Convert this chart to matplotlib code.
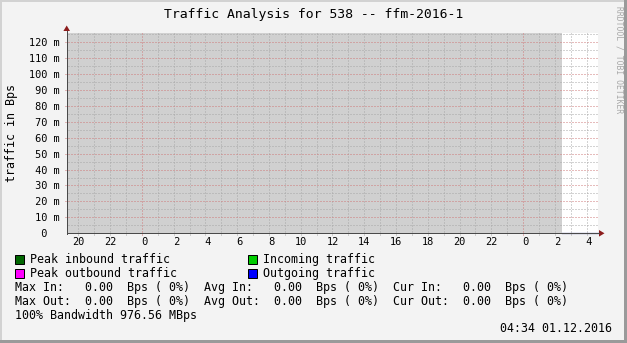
import matplotlib
matplotlib.use("Agg")
import matplotlib.pyplot as plt
import numpy as np
from matplotlib.patches import Rectangle, Polygon
from matplotlib.lines import Line2D

# ---------------- data ----------------
title = "Traffic Analysis for 538 -- ffm-2016-1"
y_label = "traffic in Bps"
watermark = "RRDTOOL / TOBI OETIKER"

# x axis: hours counted from 29.11.2016 00:00
x_window = [19.26, 52.69]
x_tick_hours = [20, 22, 24, 26, 28, 30, 32, 34, 36, 38, 40, 42, 44, 46, 48, 50, 52]
x_tick_labels = ["20", "22", " 0", " 2", " 4", " 6", " 8", "10", "12", "14",
                 "16", "18", "20", "22", " 0", " 2", " 4"]
midnights = [24, 48]

y_max = 0.1255
y_tick_values = [0.0, 0.01, 0.02, 0.03, 0.04, 0.05, 0.06, 0.07, 0.08, 0.09, 0.10, 0.11, 0.12]
y_tick_labels = ["  0  ", " 10 m", " 20 m", " 30 m", " 40 m", " 50 m", " 60 m",
                 " 70 m", " 80 m", " 90 m", "100 m", "110 m", "120 m"]

unknown_span = [19.26, 50.46]
known_times = [50.46, 52.69]
incoming = [0.0, 0.0]
outgoing = [0.0, 0.0]

legend_items = ["Peak inbound traffic", "Incoming traffic",
                "Peak outbound traffic", "Outgoing traffic"]
legend_colors = ["#006600", "#00cc00", "#ff00ff", "#0000ff"]

max_in, avg_in, cur_in = 0.0, 0.0, 0.0
max_out, avg_out, cur_out = 0.0, 0.0, 0.0
bandwidth = "976.56 MBps"
timestamp = "04:34 01.12.2016"

# ---------------- layout ----------------
W, H = 627, 343
MONO = "DejaVu Sans Mono"
BG = "#f3f3f3"

fig = plt.figure(figsize=(W / 100, H / 100), dpi=100, facecolor=BG)


def fx(x):
    return x / W


def fy(y):
    return 1 - y / H


L, R, T, B = 66.7, 597.5, 33.3, 233.3
ax = fig.add_axes([fx(L), fy(B), (R - L) / W, (B - T) / H])
ax.set_facecolor("white")
ax.set_xlim(*x_window)
ax.set_ylim(0, y_max)

# unknown (gray) area
ax.axvspan(unknown_span[0], unknown_span[1], color="#d0d0d0", lw=0, zorder=0.5)

minor_c = "#a8a8a8"
major_c = "#cf7a7a"
dots = (0, (1, 2))
lw1 = 0.72

# vertical grid
for h in np.arange(np.ceil(x_window[0]), np.floor(x_window[1]) + 1):
    c = major_c if h in midnights else minor_c
    ax.axvline(h, ymin=-0.01, ymax=1.01, color=c, lw=lw1, ls=dots,
               zorder=1, clip_on=False)

# horizontal grid
for v in np.arange(0.005, y_max, 0.01):
    ax.axhline(v, xmin=-0.004, xmax=1.0, color=minor_c, lw=lw1, ls=dots, zorder=1)
for v in y_tick_values[1:]:
    ax.axhline(v, xmin=-0.004, xmax=1.0, color=major_c, lw=lw1, ls=dots,
               zorder=1, clip_on=False)

# data lines
ax.plot(known_times, incoming, color="#00cc00", lw=lw1, zorder=3)
ax.plot(known_times, outgoing, color="#1c1c7a", lw=lw1 * 1.2, zorder=4, clip_on=False)

# spines
for s in ["top", "right", "left", "bottom"]:
    ax.spines[s].set_visible(False)

ax.set_xticks(x_tick_hours)
ax.set_xticklabels(x_tick_labels, fontfamily=MONO, fontsize=7.4)
ax.set_yticks(y_tick_values)
ax.set_yticklabels(y_tick_labels, fontfamily=MONO, fontsize=7.4, ha="left")
ax.tick_params(axis="x", length=0, pad=8.2)
ax.tick_params(axis="y", length=0, pad=26.8)
for lab in ax.get_xticklabels():
    lab.set_va("baseline")

# axis lines and arrows (figure pixel coordinates)
axis_c = "#4a4a4a"
fig.add_artist(Line2D([fx(L), fx(L)], [fy(B + 0.5), fy(31)], color=axis_c, lw=lw1))
fig.add_artist(Line2D([fx(L), fx(599)], [fy(B), fy(B)], color=axis_c, lw=lw1, zorder=2))
arrow_c = "#8c1c1c"
fig.add_artist(Polygon([(fx(L), fy(25.5)), (fx(L - 3.3), fy(31)), (fx(L + 3.3), fy(31))],
                       closed=True, color=arrow_c, lw=0))
fig.add_artist(Polygon([(fx(604.5), fy(B)), (fx(599), fy(B - 3.3)), (fx(599), fy(B + 3.3))],
                       closed=True, color=arrow_c, lw=0))

# titles
fig.text(fx(313.5), fy(18.3), title, ha="center", va="baseline",
         fontfamily=MONO, fontsize=9.45, color="black")
fig.text(fx(14.7), fy(133), y_label, ha="center", va="baseline", rotation=90,
         rotation_mode="anchor", fontfamily=MONO, fontsize=8.37)
fig.text(fx(616), fy(60), watermark, ha="center", va="baseline", rotation=270,
         rotation_mode="anchor", fontfamily=MONO, fontsize=5.75, color="#a8a8a8")

# legend
FS = 8.37
sq = 9
rows_y = [263, 277]
cols_x = [(15, 30.3), (248, 263.3)]
for i, (txt, col) in enumerate(zip(legend_items, legend_colors)):
    r, c = divmod(i, 2)
    sx, tx = cols_x[c]
    yb = rows_y[r]
    top = yb - 8.5
    fig.add_artist(Rectangle((fx(sx), fy(top + sq)), sq / W, sq / H,
                             facecolor=col, edgecolor="black", lw=0.72))
    fig.text(fx(tx), fy(yb), txt, ha="left", va="baseline", fontfamily=MONO, fontsize=FS)


def pct(v):
    return v / 976.56e6 * 100


line_in = ("Max In:  %5.2f  Bps (%2.0f%%)  Avg In:  %5.2f  Bps (%2.0f%%)  Cur In:  %5.2f  Bps (%2.0f%%)"
           % (max_in, pct(max_in), avg_in, pct(avg_in), cur_in, pct(cur_in)))
line_out = ("Max Out: %5.2f  Bps (%2.0f%%)  Avg Out: %5.2f  Bps (%2.0f%%)  Cur Out: %5.2f  Bps (%2.0f%%)"
            % (max_out, pct(max_out), avg_out, pct(avg_out), cur_out, pct(cur_out)))
fig.text(fx(15.5), fy(291), line_in, ha="left", va="baseline", fontfamily=MONO, fontsize=FS)
fig.text(fx(15.5), fy(304.5), line_out, ha="left", va="baseline", fontfamily=MONO, fontsize=FS)
fig.text(fx(15.5), fy(318.5), "100% Bandwidth " + bandwidth, ha="left", va="baseline",
         fontfamily=MONO, fontsize=FS)
fig.text(fx(611.5), fy(332.3), timestamp, ha="right", va="baseline",
         fontfamily=MONO, fontsize=FS)

# 3D border
fig.add_artist(Rectangle((0, fy(H)), fx(2), 1, facecolor="#d2d2d2", lw=0))
fig.add_artist(Rectangle((0, fy(2)), 1, 2 / H, facecolor="#d2d2d2", lw=0))
fig.add_artist(Rectangle((fx(W - 3), 0), 3 / W, 1, facecolor="#9a9a9a", lw=0))
fig.add_artist(Rectangle((0, 0), 1, 3 / H, facecolor="#9a9a9a", lw=0))

fig.savefig("out.png", dpi=100, facecolor=BG)
